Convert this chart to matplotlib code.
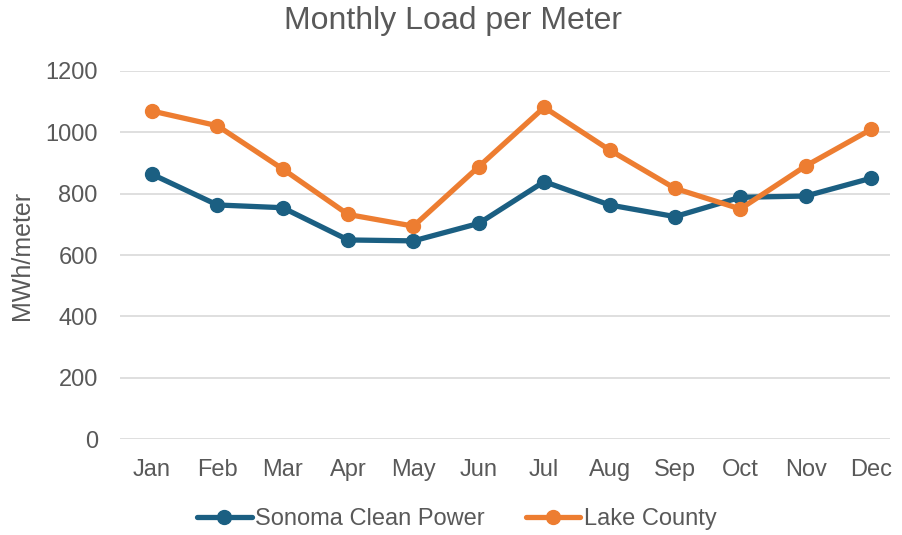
import matplotlib
matplotlib.use("Agg")
import matplotlib.pyplot as plt

months = ["Jan", "Feb", "Mar", "Apr", "May", "Jun", "Jul", "Aug", "Sep", "Oct", "Nov", "Dec"]
sonoma = [863, 763, 754, 649, 646, 703, 839, 763, 725, 788, 792, 850]
lake = [1069, 1021, 880, 732, 694, 888, 1081, 942, 817, 750, 890, 1009]
yticks = [0, 200, 400, 600, 800, 1000, 1200]

plt.rcParams['font.family'] = ['Liberation Sans', 'DejaVu Sans']
text_color = "#595959"

fig = plt.figure(figsize=(9.02, 5.35), dpi=100)
ax = fig.add_axes([120/902, (535-439.2)/535, (890-120)/902, (439.2-70.8)/535])

x = list(range(len(months)))
blue = "#1B5F82"
orange = "#ED7D31"
ax.plot(x, sonoma, color=blue, lw=3.8, marker='o', ms=10, label="Sonoma Clean Power", solid_capstyle='round', zorder=3)
ax.plot(x, lake, color=orange, lw=3.8, marker='o', ms=10, label="Lake County", solid_capstyle='round', zorder=4)

ax.set_xlim(-0.49, 11.29)
ax.set_ylim(0, 1200)
ax.set_yticks(yticks)
ax.set_yticklabels([str(v) for v in yticks])
ax.set_xticks(x)
ax.set_xticklabels(months)
ax.grid(axis='y', color="#D9D9D9", lw=1.2)
ax.set_axisbelow(True)
for s in ax.spines.values():
    s.set_visible(False)
ax.tick_params(axis='both', length=0, colors=text_color, labelsize=17)
ax.tick_params(axis='y', pad=16)
ax.tick_params(axis='x', pad=14)

ax.set_ylabel("MWh/meter", color=text_color, fontsize=18, labelpad=8)
fig.text(453/902, 1 - 21/535, "Monthly Load per Meter", ha='center', va='center', fontsize=23, color=text_color)

leg = fig.legend(loc='center', bbox_to_anchor=(457/902, 1 - 519/535), ncol=2, frameon=False,
                 fontsize=17, labelcolor=text_color, handlelength=2.3, handletextpad=0.15, columnspacing=1.75)

fig.savefig("out.png", dpi=100)
